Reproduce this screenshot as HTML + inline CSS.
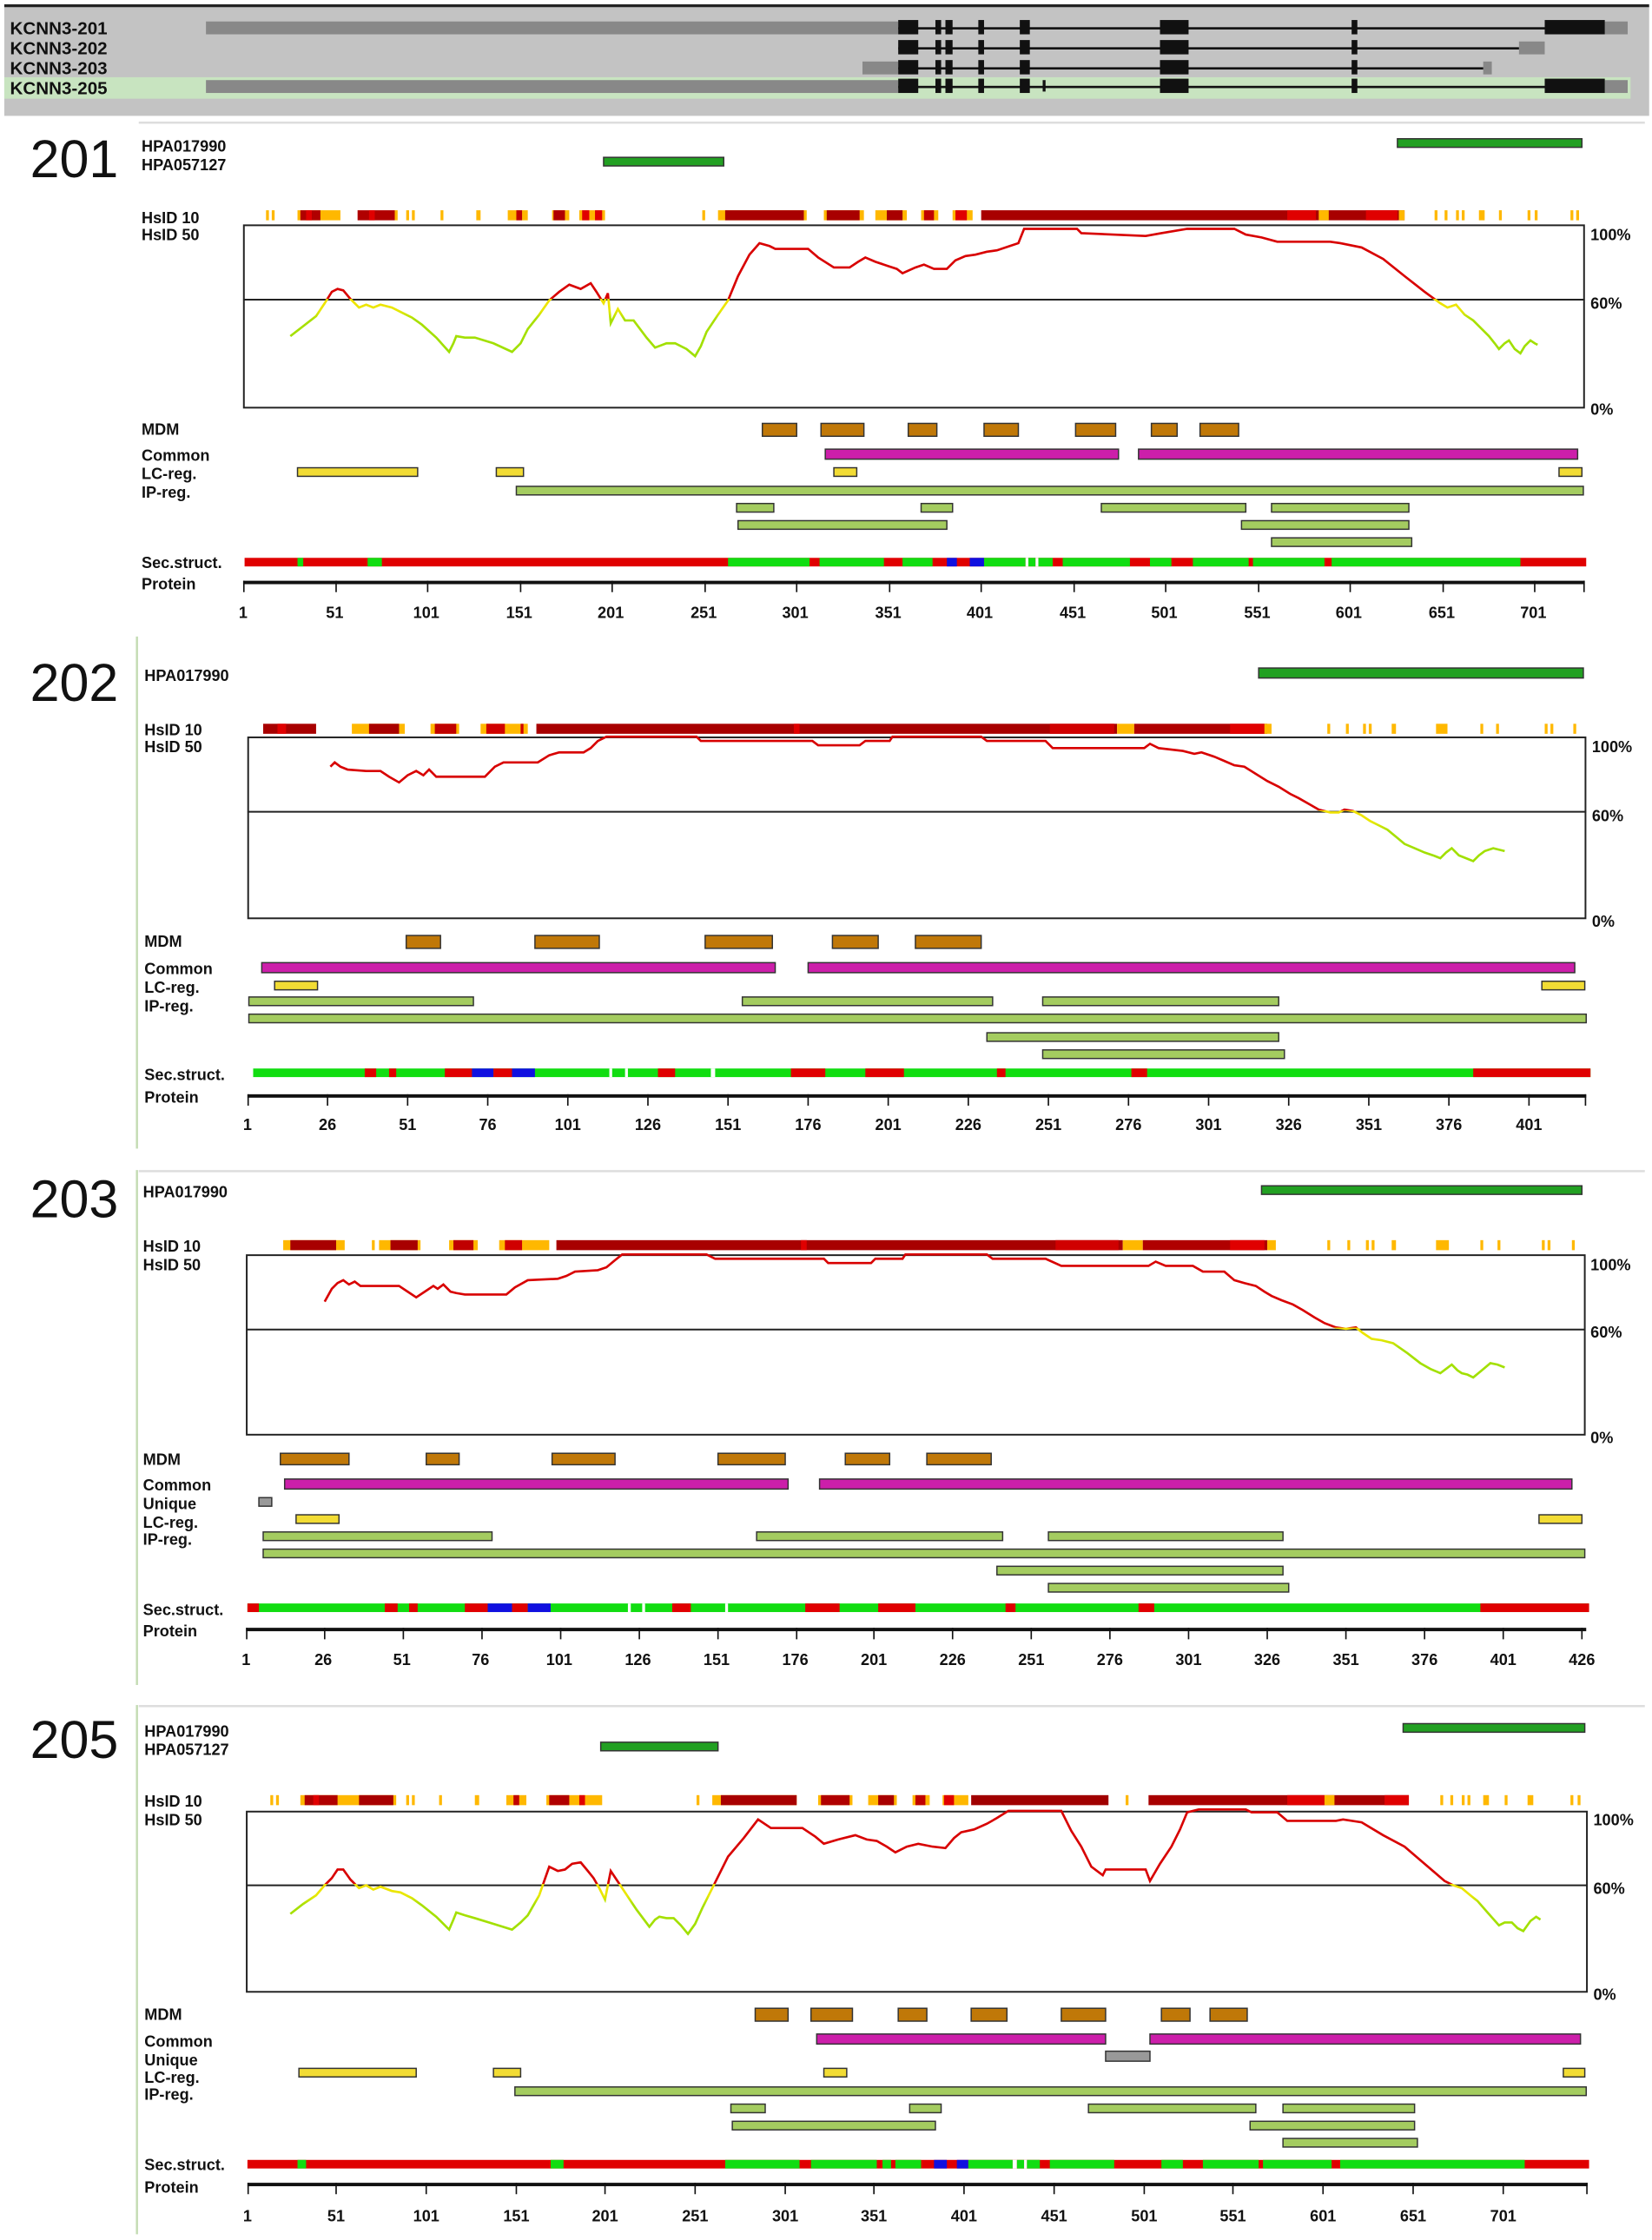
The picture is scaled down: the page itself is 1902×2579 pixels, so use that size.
<!DOCTYPE html>
<html><head><meta charset="utf-8"><style>
html,body{margin:0;padding:0;background:#fff}
svg{display:block}
text{font-family:"Liberation Sans",sans-serif}
.l{font-size:11px;font-weight:bold;fill:#111}
.t{font-size:11px;font-weight:bold;fill:#111;text-anchor:middle}
.big{font-size:37px;fill:#111}
.b rect{stroke:#333;stroke-width:0.9}
</style></head><body>
<svg width="1902" height="2579" viewBox="0 0 1155 1566" preserveAspectRatio="none" xmlns="http://www.w3.org/2000/svg">
<defs>
<linearGradient id="g1" gradientUnits="userSpaceOnUse" x1="0" y1="157" x2="0" y2="285"><stop offset="0.405" stop-color="#d80000"/><stop offset="0.405" stop-color="#f2e000"/><stop offset="0.47" stop-color="#e8e800"/><stop offset="0.52" stop-color="#a8e000"/><stop offset="1" stop-color="#90e000"/></linearGradient>
<linearGradient id="g2" gradientUnits="userSpaceOnUse" x1="0" y1="515" x2="0" y2="642"><stop offset="0.405" stop-color="#d80000"/><stop offset="0.405" stop-color="#f2e000"/><stop offset="0.47" stop-color="#e8e800"/><stop offset="0.52" stop-color="#a8e000"/><stop offset="1" stop-color="#90e000"/></linearGradient>
<linearGradient id="g3" gradientUnits="userSpaceOnUse" x1="0" y1="877" x2="0" y2="1003"><stop offset="0.405" stop-color="#d80000"/><stop offset="0.405" stop-color="#f2e000"/><stop offset="0.47" stop-color="#e8e800"/><stop offset="0.52" stop-color="#a8e000"/><stop offset="1" stop-color="#90e000"/></linearGradient>
<linearGradient id="g5" gradientUnits="userSpaceOnUse" x1="0" y1="1266" x2="0" y2="1392"><stop offset="0.405" stop-color="#d80000"/><stop offset="0.405" stop-color="#f2e000"/><stop offset="0.47" stop-color="#e8e800"/><stop offset="0.52" stop-color="#a8e000"/><stop offset="1" stop-color="#90e000"/></linearGradient>
</defs>

<rect x="3" y="4" width="1150" height="77" fill="#c3c3c3"/>
<rect x="3" y="3" width="1150" height="2" fill="#222"/>
<rect x="3" y="54" width="1137" height="15" fill="#c8e4c0"/>
<g font-weight="bold" fill="#111">
<text x="7" y="24" style="font-size:12.5px">KCNN3-201</text>
<text x="7" y="38" style="font-size:12.5px">KCNN3-202</text>
<text x="7" y="52" style="font-size:12.5px">KCNN3-203</text>
<text x="7" y="66" style="font-size:12.5px">KCNN3-205</text>
</g>
<g fill="#111">
<rect x="144" y="15" width="484" height="9" fill="#888"/><rect x="1122" y="15" width="16" height="9" fill="#888"/>
<rect x="628" y="19" width="452" height="1.6"/>
<rect x="628" y="14" width="14" height="10"/><rect x="654" y="14" width="4" height="10"/><rect x="661" y="14" width="5" height="10"/><rect x="684" y="14" width="4" height="10"/><rect x="713" y="14" width="7" height="10"/><rect x="811" y="14" width="20" height="10"/><rect x="945" y="14" width="4" height="10"/><rect x="1080" y="14" width="42" height="10"/>
<rect x="1062" y="29" width="18" height="9" fill="#888"/>
<rect x="628" y="33" width="434" height="1.6"/>
<rect x="628" y="28" width="14" height="10"/><rect x="654" y="28" width="4" height="10"/><rect x="661" y="28" width="5" height="10"/><rect x="684" y="28" width="4" height="10"/><rect x="713" y="28" width="7" height="10"/><rect x="811" y="28" width="20" height="10"/><rect x="945" y="28" width="4" height="10"/>
<rect x="603" y="43" width="25" height="9" fill="#888"/><rect x="1037" y="43" width="6" height="9" fill="#888"/>
<rect x="628" y="47" width="409" height="1.6"/>
<rect x="628" y="42" width="14" height="10"/><rect x="654" y="42" width="4" height="10"/><rect x="661" y="42" width="5" height="10"/><rect x="684" y="42" width="4" height="10"/><rect x="713" y="42" width="7" height="10"/><rect x="811" y="42" width="20" height="10"/><rect x="945" y="42" width="4" height="10"/>
<rect x="144" y="56" width="484" height="9" fill="#888"/><rect x="1122" y="56" width="16" height="9" fill="#888"/>
<rect x="628" y="60" width="452" height="1.6"/>
<rect x="628" y="55" width="14" height="10"/><rect x="654" y="55" width="4" height="10"/><rect x="661" y="55" width="5" height="10"/><rect x="684" y="55" width="4" height="10"/><rect x="713" y="55" width="7" height="10"/><rect x="729" y="56" width="2" height="8"/><rect x="811" y="55" width="20" height="10"/><rect x="945" y="55" width="4" height="10"/><rect x="1080" y="55" width="42" height="10"/>
</g>

<rect x="97" y="85" width="1053" height="1.5" fill="#ddd"/>
<rect x="95" y="445" width="1.5" height="358" fill="#c4dcb4"/>
<rect x="97" y="818" width="1053" height="1.5" fill="#ddd"/>
<rect x="95" y="818" width="1.5" height="360" fill="#c4dcb4"/>
<rect x="97" y="1192" width="1053" height="1.5" fill="#ddd"/>
<rect x="95" y="1192" width="1.5" height="370" fill="#c4dcb4"/>

<!-- 201 -->
<text class="big" x="21" y="124">201</text>
<text class="l" x="99" y="106">HPA017990</text>
<text class="l" x="99" y="119">HPA057127</text>
<g class="b"><rect x="977" y="97" width="129" height="6" fill="#22a022"/><rect x="422" y="110" width="84" height="6" fill="#22a022"/></g>
<text class="l" x="99" y="156">HsID 10</text>
<text class="l" x="99" y="168">HsID 50</text>
<g>
<rect x="186" y="147" width="2" height="7" fill="#ffb800"/><rect x="190" y="147" width="2" height="7" fill="#ffb800"/>
<rect x="208" y="147" width="30" height="7" fill="#ffb800"/><rect x="210" y="147" width="14" height="7" fill="#b00000"/><rect x="214" y="147" width="4" height="7" fill="#e00000"/>
<rect x="250" y="147" width="26" height="7" fill="#b00000"/><rect x="258" y="147" width="4" height="7" fill="#e00000"/><rect x="276" y="147" width="2" height="7" fill="#ffb800"/>
<rect x="284" y="147" width="2" height="7" fill="#ffb800"/><rect x="288" y="147" width="2" height="7" fill="#ffb800"/>
<rect x="308" y="147" width="2" height="7" fill="#ffb800"/><rect x="333" y="147" width="3" height="7" fill="#ffb800"/>
<rect x="355" y="147" width="14" height="7" fill="#ffb800"/><rect x="361" y="147" width="4" height="7" fill="#c00000"/>
<rect x="386" y="147" width="12" height="7" fill="#ffb800"/><rect x="387" y="147" width="8" height="7" fill="#b00000"/>
<rect x="405" y="147" width="18" height="7" fill="#ffb800"/><rect x="407" y="147" width="5" height="7" fill="#e00000"/><rect x="416" y="147" width="5" height="7" fill="#e00000"/>
<rect x="491" y="147" width="2" height="7" fill="#ffb800"/>
<rect x="502" y="147" width="62" height="7" fill="#ffb800"/><rect x="507" y="147" width="55" height="7" fill="#a80000"/>
<rect x="576" y="147" width="28" height="7" fill="#ffb800"/><rect x="578" y="147" width="23" height="7" fill="#a80000"/>
<rect x="612" y="147" width="22" height="7" fill="#ffb800"/><rect x="620" y="147" width="11" height="7" fill="#a80000"/>
<rect x="644" y="147" width="12" height="7" fill="#ffb800"/><rect x="646" y="147" width="7" height="7" fill="#c00000"/>
<rect x="666" y="147" width="14" height="7" fill="#ffb800"/><rect x="668" y="147" width="8" height="7" fill="#e00000"/>
<rect x="686" y="147" width="296" height="7" fill="#a80000"/><rect x="900" y="147" width="20" height="7" fill="#e00000"/><rect x="922" y="147" width="7" height="7" fill="#ffb800"/><rect x="955" y="147" width="22" height="7" fill="#e00000"/><rect x="978" y="147" width="4" height="7" fill="#ffb800"/>
<rect x="1003" y="147" width="2" height="7" fill="#ffb800"/><rect x="1010" y="147" width="2" height="7" fill="#ffb800"/><rect x="1018" y="147" width="2" height="7" fill="#ffb800"/><rect x="1022" y="147" width="2" height="7" fill="#ffb800"/><rect x="1034" y="147" width="4" height="7" fill="#ffb800"/><rect x="1048" y="147" width="2" height="7" fill="#ffb800"/><rect x="1068" y="147" width="2" height="7" fill="#ffb800"/><rect x="1073" y="147" width="2" height="7" fill="#ffb800"/><rect x="1098" y="147" width="2" height="7" fill="#ffb800"/><rect x="1102" y="147" width="2" height="7" fill="#ffb800"/>
</g>
<rect x="170.5" y="157.5" width="937" height="127.5" fill="none" stroke="#222" stroke-width="1.2"/>
<line x1="170" y1="209.5" x2="1108" y2="209.5" stroke="#222" stroke-width="1.2"/>
<text class="l" x="1112" y="168">100%</text><text class="l" x="1112" y="216">60%</text><text class="l" x="1112" y="290">0%</text>
<polyline fill="none" stroke="url(#g1)" stroke-width="1.6" points="203,235 212,228 221,221 227,212 232,204 236,202 240,203 245,209 251,215 256,213 261,215 266,213 274,215 280,218 288,222 295,227 305,236 314,246 317,240 319,235 325,236 332,236 345,240 358,246 364,240 369,230 377,220 384,210 391,204 398,199 406,202 413,198 417,204 422,212 425,205 427,226 432,216 437,224 443,224 452,236 458,243 466,240 472,240 480,244 486,249 490,242 494,232 502,220 509,210 516,193 524,178 531,170 538,172 542,174 552,174 565,174 572,180 583,187 594,187 600,183 605,180 612,183 621,186 627,188 631,191 640,187 646,185 653,188 662,188 668,182 675,179 682,178 690,176 697,175 706,172 712,170 716,160 753,160 756,163 801,165 812,163 830,160 863,160 871,164 882,166 893,169 915,169 930,169 937,170 952,173 967,181 982,193 996,204 1007,212 1012,215 1018,213 1024,220 1030,224 1036,230 1041,235 1045,240 1048,244 1052,240 1055,238 1059,244 1063,247 1066,242 1070,238 1073,240 1075,241"/>
<g class="b">
<rect x="533" y="296" width="24" height="9" fill="#c07808"/><rect x="574" y="296" width="30" height="9" fill="#c07808"/><rect x="635" y="296" width="20" height="9" fill="#c07808"/><rect x="688" y="296" width="24" height="9" fill="#c07808"/><rect x="752" y="296" width="28" height="9" fill="#c07808"/><rect x="805" y="296" width="18" height="9" fill="#c07808"/><rect x="839" y="296" width="27" height="9" fill="#c07808"/>
<rect x="577" y="314" width="205" height="7" fill="#cc1faa"/><rect x="796" y="314" width="307" height="7" fill="#cc1faa"/>
<rect x="208" y="327" width="84" height="6" fill="#f2dc34"/><rect x="347" y="327" width="19" height="6" fill="#f2dc34"/><rect x="583" y="327" width="16" height="6" fill="#f2dc34"/><rect x="1090" y="327" width="16" height="6" fill="#f2dc34"/>
<rect x="361" y="340" width="746" height="6" fill="#a4cc60"/>
<rect x="515" y="352" width="26" height="6" fill="#a4cc60"/><rect x="644" y="352" width="22" height="6" fill="#a4cc60"/><rect x="770" y="352" width="101" height="6" fill="#a4cc60"/><rect x="889" y="352" width="96" height="6" fill="#a4cc60"/>
<rect x="516" y="364" width="146" height="6" fill="#a4cc60"/><rect x="868" y="364" width="117" height="6" fill="#a4cc60"/>
<rect x="889" y="376" width="98" height="6" fill="#a4cc60"/>
</g>
<text class="l" x="99" y="304">MDM</text><text class="l" x="99" y="322">Common</text><text class="l" x="99" y="335">LC-reg.</text><text class="l" x="99" y="348">IP-reg.</text>
<text class="l" x="99" y="397">Sec.struct.</text><text class="l" x="99" y="412">Protein</text>
<g>
<rect x="171" y="390" width="938" height="6" fill="#e00000"/>
<rect x="208" y="390" width="4" height="6" fill="#11dd11"/><rect x="257" y="390" width="10" height="6" fill="#11dd11"/><rect x="509" y="390" width="57" height="6" fill="#11dd11"/><rect x="573" y="390" width="45" height="6" fill="#11dd11"/><rect x="631" y="390" width="21" height="6" fill="#11dd11"/><rect x="662" y="390" width="7" height="6" fill="#1010e0"/><rect x="678" y="390" width="10" height="6" fill="#1010e0"/><rect x="688" y="390" width="29" height="6" fill="#11dd11"/><rect x="717" y="390" width="2" height="6" fill="#fff"/><rect x="719" y="390" width="5" height="6" fill="#11dd11"/><rect x="724" y="390" width="2" height="6" fill="#fff"/><rect x="726" y="390" width="10" height="6" fill="#11dd11"/><rect x="743" y="390" width="47" height="6" fill="#11dd11"/><rect x="804" y="390" width="15" height="6" fill="#11dd11"/><rect x="834" y="390" width="39" height="6" fill="#11dd11"/><rect x="876" y="390" width="50" height="6" fill="#11dd11"/><rect x="931" y="390" width="132" height="6" fill="#11dd11"/>
</g>
<rect x="170" y="406" width="938" height="2.4" fill="#111"/>
<g stroke="#111" stroke-width="1"><path d="M170.5 406v8M235 406v8M299 406v8M364 406v8M428 406v8M493 406v8M557 406v8M622 406v8M686 406v8M751 406v8M815 406v8M880 406v8M944 406v8M1009 406v8M1073 406v8M1107.5 406v8"/></g>
<g class="t"><text x="170" y="432">1</text><text x="234" y="432">51</text><text x="298" y="432">101</text><text x="363" y="432">151</text><text x="427" y="432">201</text><text x="492" y="432">251</text><text x="556" y="432">301</text><text x="621" y="432">351</text><text x="685" y="432">401</text><text x="750" y="432">451</text><text x="814" y="432">501</text><text x="879" y="432">551</text><text x="943" y="432">601</text><text x="1008" y="432">651</text><text x="1072" y="432">701</text></g>

<!-- 202 -->
<text class="big" x="21" y="490">202</text>
<text class="l" x="101" y="476">HPA017990</text>
<g class="b"><rect x="880" y="467" width="227" height="7" fill="#22a022"/></g>
<text class="l" x="101" y="514">HsID 10</text>
<text class="l" x="101" y="526">HsID 50</text>
<g>
<rect x="184" y="506" width="37" height="7" fill="#a80000"/><rect x="194" y="506" width="6" height="7" fill="#e00000"/>
<rect x="246" y="506" width="37" height="7" fill="#ffb800"/><rect x="258" y="506" width="21" height="7" fill="#a80000"/>
<rect x="301" y="506" width="20" height="7" fill="#ffb800"/><rect x="304" y="506" width="15" height="7" fill="#c00000"/>
<rect x="336" y="506" width="33" height="7" fill="#ffb800"/><rect x="340" y="506" width="13" height="7" fill="#d00000"/><rect x="364" y="506" width="2" height="7" fill="#d00000"/>
<rect x="375" y="506" width="406" height="7" fill="#a80000"/><rect x="555" y="506" width="4" height="7" fill="#e00000"/><rect x="734" y="506" width="45" height="7" fill="#d00000"/>
<rect x="781" y="506" width="12" height="7" fill="#ffb800"/><rect x="793" y="506" width="93" height="7" fill="#b00000"/><rect x="860" y="506" width="24" height="7" fill="#e00000"/><rect x="884" y="506" width="5" height="7" fill="#ffb800"/>
<rect x="928" y="506" width="2" height="7" fill="#ffb800"/><rect x="941" y="506" width="2" height="7" fill="#ffb800"/><rect x="953" y="506" width="2" height="7" fill="#ffb800"/><rect x="957" y="506" width="2" height="7" fill="#ffb800"/><rect x="973" y="506" width="3" height="7" fill="#ffb800"/><rect x="1004" y="506" width="8" height="7" fill="#ffb800"/><rect x="1035" y="506" width="2" height="7" fill="#ffb800"/><rect x="1046" y="506" width="2" height="7" fill="#ffb800"/><rect x="1080" y="506" width="2" height="7" fill="#ffb800"/><rect x="1084" y="506" width="2" height="7" fill="#ffb800"/><rect x="1100" y="506" width="2" height="7" fill="#ffb800"/>
</g>
<rect x="173.5" y="515.5" width="935" height="126.5" fill="none" stroke="#222" stroke-width="1.2"/>
<line x1="173" y1="567.5" x2="1109" y2="567.5" stroke="#222" stroke-width="1.2"/>
<text class="l" x="1113" y="526">100%</text><text class="l" x="1113" y="574">60%</text><text class="l" x="1113" y="648">0%</text>
<polyline fill="none" stroke="url(#g2)" stroke-width="1.6" points="231,536 234,533 238,536 243,538 256,539 266,539 272,543 279,547 285,542 291,539 296,542 300,538 305,543 310,543 339,543 346,536 352,533 376,533 384,528 391,526 408,526 413,523 418,518 424,515 487,515 490,518 568,518 572,521 601,521 605,518 622,518 624,515 686,515 690,518 731,518 736,523 800,523 804,520 810,523 827,525 835,527 840,526 849,529 856,532 863,535 870,536 878,541 886,546 894,550 902,555 908,558 915,562 922,566 930,568 936,568 940,566 946,567 952,570 958,574 964,577 970,580 976,585 982,590 989,593 996,596 1002,598 1007,600 1011,596 1015,593 1020,598 1025,600 1030,602 1034,598 1038,595 1044,593 1048,594 1052,595"/>
<g class="b">
<rect x="284" y="654" width="24" height="9" fill="#c07808"/><rect x="374" y="654" width="45" height="9" fill="#c07808"/><rect x="493" y="654" width="47" height="9" fill="#c07808"/><rect x="582" y="654" width="32" height="9" fill="#c07808"/><rect x="640" y="654" width="46" height="9" fill="#c07808"/>
<rect x="183" y="673" width="359" height="7" fill="#cc1faa"/><rect x="565" y="673" width="536" height="7" fill="#cc1faa"/>
<rect x="192" y="686" width="30" height="6" fill="#f2dc34"/><rect x="1078" y="686" width="30" height="6" fill="#f2dc34"/>
<rect x="174" y="697" width="157" height="6" fill="#a4cc60"/><rect x="519" y="697" width="175" height="6" fill="#a4cc60"/><rect x="729" y="697" width="165" height="6" fill="#a4cc60"/>
<rect x="174" y="709" width="935" height="6" fill="#a4cc60"/>
<rect x="690" y="722" width="204" height="6" fill="#a4cc60"/>
<rect x="729" y="734" width="169" height="6" fill="#a4cc60"/>
</g>
<text class="l" x="101" y="662">MDM</text><text class="l" x="101" y="681">Common</text><text class="l" x="101" y="694">LC-reg.</text><text class="l" x="101" y="707">IP-reg.</text>
<text class="l" x="101" y="755">Sec.struct.</text><text class="l" x="101" y="771">Protein</text>
<g>
<rect x="177" y="747" width="935" height="6" fill="#11dd11"/>
<rect x="255" y="747" width="8" height="6" fill="#e00000"/><rect x="272" y="747" width="5" height="6" fill="#e00000"/><rect x="311" y="747" width="19" height="6" fill="#e00000"/><rect x="330" y="747" width="15" height="6" fill="#1010e0"/><rect x="345" y="747" width="13" height="6" fill="#e00000"/><rect x="358" y="747" width="16" height="6" fill="#1010e0"/><rect x="426" y="747" width="2" height="6" fill="#fff"/><rect x="437" y="747" width="2" height="6" fill="#fff"/><rect x="460" y="747" width="12" height="6" fill="#e00000"/><rect x="497" y="747" width="3" height="6" fill="#fff"/><rect x="553" y="747" width="24" height="6" fill="#e00000"/><rect x="605" y="747" width="27" height="6" fill="#e00000"/><rect x="697" y="747" width="6" height="6" fill="#e00000"/><rect x="791" y="747" width="11" height="6" fill="#e00000"/><rect x="1030" y="747" width="82" height="6" fill="#e00000"/>
</g>
<rect x="173" y="765" width="936" height="2.4" fill="#111"/>
<g stroke="#111" stroke-width="1"><path d="M173.5 765v8M229 765v8M285 765v8M341 765v8M397 765v8M453 765v8M509 765v8M565 765v8M621 765v8M677 765v8M733 765v8M789 765v8M845 765v8M901 765v8M957 765v8M1013 765v8M1069 765v8M1108.5 765v8"/></g>
<g class="t"><text x="173" y="790">1</text><text x="229" y="790">26</text><text x="285" y="790">51</text><text x="341" y="790">76</text><text x="397" y="790">101</text><text x="453" y="790">126</text><text x="509" y="790">151</text><text x="565" y="790">176</text><text x="621" y="790">201</text><text x="677" y="790">226</text><text x="733" y="790">251</text><text x="789" y="790">276</text><text x="845" y="790">301</text><text x="901" y="790">326</text><text x="957" y="790">351</text><text x="1013" y="790">376</text><text x="1069" y="790">401</text></g>

<!-- 203 -->
<text class="big" x="21" y="851">203</text>
<text class="l" x="100" y="837">HPA017990</text>
<g class="b"><rect x="882" y="829" width="224" height="6" fill="#22a022"/></g>
<text class="l" x="100" y="875">HsID 10</text>
<text class="l" x="100" y="888">HsID 50</text>
<g>
<rect x="198" y="867" width="43" height="7" fill="#ffb800"/><rect x="203" y="867" width="32" height="7" fill="#a80000"/>
<rect x="260" y="867" width="2" height="7" fill="#ffb800"/><rect x="265" y="867" width="29" height="7" fill="#ffb800"/><rect x="273" y="867" width="19" height="7" fill="#a80000"/>
<rect x="314" y="867" width="20" height="7" fill="#ffb800"/><rect x="317" y="867" width="14" height="7" fill="#c00000"/>
<rect x="349" y="867" width="35" height="7" fill="#ffb800"/><rect x="353" y="867" width="12" height="7" fill="#d00000"/>
<rect x="389" y="867" width="396" height="7" fill="#a80000"/><rect x="560" y="867" width="4" height="7" fill="#e00000"/><rect x="738" y="867" width="44" height="7" fill="#d00000"/>
<rect x="785" y="867" width="14" height="7" fill="#ffb800"/><rect x="799" y="867" width="87" height="7" fill="#b00000"/><rect x="860" y="867" width="24" height="7" fill="#e00000"/><rect x="886" y="867" width="6" height="7" fill="#ffb800"/>
<rect x="928" y="867" width="2" height="7" fill="#ffb800"/><rect x="942" y="867" width="2" height="7" fill="#ffb800"/><rect x="955" y="867" width="2" height="7" fill="#ffb800"/><rect x="959" y="867" width="2" height="7" fill="#ffb800"/><rect x="973" y="867" width="3" height="7" fill="#ffb800"/><rect x="1004" y="867" width="9" height="7" fill="#ffb800"/><rect x="1035" y="867" width="2" height="7" fill="#ffb800"/><rect x="1047" y="867" width="2" height="7" fill="#ffb800"/><rect x="1078" y="867" width="2" height="7" fill="#ffb800"/><rect x="1082" y="867" width="2" height="7" fill="#ffb800"/><rect x="1099" y="867" width="2" height="7" fill="#ffb800"/>
</g>
<rect x="172.5" y="877.5" width="935.5" height="125.5" fill="none" stroke="#222" stroke-width="1.2"/>
<line x1="172" y1="929.5" x2="1108" y2="929.5" stroke="#222" stroke-width="1.2"/>
<text class="l" x="1112" y="888">100%</text><text class="l" x="1112" y="935">60%</text><text class="l" x="1112" y="1009">0%</text>
<polyline fill="none" stroke="url(#g3)" stroke-width="1.6" points="227,910 232,901 236,897 240,895 244,898 248,896 252,899 279,899 285,903 291,907 297,903 303,899 306,901 310,898 315,903 319,904 325,905 354,905 360,900 369,895 390,894 396,892 402,889 418,888 424,886 430,881 435,877 494,877 500,880 576,880 579,883 609,883 612,880 631,880 633,877 690,877 694,880 731,880 742,885 803,885 808,882 815,885 834,885 841,889 856,889 863,895 870,897 878,899 884,903 889,906 896,909 904,912 911,916 919,921 926,925 934,928 941,929 948,928 953,932 959,936 966,937 974,939 984,946 993,953 1000,957 1007,960 1011,957 1015,954 1019,958 1022,960 1026,961 1030,963 1036,958 1042,953 1047,954 1052,956"/>
<g class="b">
<rect x="196" y="1016" width="48" height="8" fill="#c07808"/><rect x="298" y="1016" width="23" height="8" fill="#c07808"/><rect x="386" y="1016" width="44" height="8" fill="#c07808"/><rect x="502" y="1016" width="47" height="8" fill="#c07808"/><rect x="591" y="1016" width="31" height="8" fill="#c07808"/><rect x="648" y="1016" width="45" height="8" fill="#c07808"/>
<rect x="199" y="1034" width="352" height="7" fill="#cc1faa"/><rect x="573" y="1034" width="526" height="7" fill="#cc1faa"/>
<rect x="181" y="1047" width="9" height="6" fill="#999"/>
<rect x="207" y="1059" width="30" height="6" fill="#f2dc34"/><rect x="1076" y="1059" width="30" height="6" fill="#f2dc34"/>
<rect x="184" y="1071" width="160" height="6" fill="#a4cc60"/><rect x="529" y="1071" width="172" height="6" fill="#a4cc60"/><rect x="733" y="1071" width="164" height="6" fill="#a4cc60"/>
<rect x="184" y="1083" width="924" height="6" fill="#a4cc60"/>
<rect x="697" y="1095" width="200" height="6" fill="#a4cc60"/>
<rect x="733" y="1107" width="168" height="6" fill="#a4cc60"/>
</g>
<text class="l" x="100" y="1024">MDM</text><text class="l" x="100" y="1042">Common</text><text class="l" x="100" y="1055">Unique</text><text class="l" x="100" y="1068">LC-reg.</text><text class="l" x="100" y="1080">IP-reg.</text>
<text class="l" x="100" y="1129">Sec.struct.</text><text class="l" x="100" y="1144">Protein</text>
<g>
<rect x="173" y="1121" width="938" height="6" fill="#11dd11"/>
<rect x="173" y="1121" width="8" height="6" fill="#e00000"/><rect x="269" y="1121" width="9" height="6" fill="#e00000"/><rect x="286" y="1121" width="6" height="6" fill="#e00000"/><rect x="325" y="1121" width="16" height="6" fill="#e00000"/><rect x="341" y="1121" width="17" height="6" fill="#1010e0"/><rect x="358" y="1121" width="11" height="6" fill="#e00000"/><rect x="369" y="1121" width="16" height="6" fill="#1010e0"/><rect x="439" y="1121" width="2" height="6" fill="#fff"/><rect x="449" y="1121" width="2" height="6" fill="#fff"/><rect x="470" y="1121" width="13" height="6" fill="#e00000"/><rect x="507" y="1121" width="2" height="6" fill="#fff"/><rect x="563" y="1121" width="24" height="6" fill="#e00000"/><rect x="614" y="1121" width="26" height="6" fill="#e00000"/><rect x="703" y="1121" width="7" height="6" fill="#e00000"/><rect x="796" y="1121" width="11" height="6" fill="#e00000"/><rect x="1035" y="1121" width="76" height="6" fill="#e00000"/>
</g>
<rect x="172" y="1138" width="937" height="2.4" fill="#111"/>
<g stroke="#111" stroke-width="1"><path d="M172.5 1138v8M227 1138v8M282 1138v8M337 1138v8M392 1138v8M447 1138v8M502 1138v8M557 1138v8M611 1138v8M666 1138v8M721 1138v8M776 1138v8M831 1138v8M886 1138v8M941 1138v8M996 1138v8M1051 1138v8M1106 1138v8"/></g>
<g class="t"><text x="172" y="1164">1</text><text x="226" y="1164">26</text><text x="281" y="1164">51</text><text x="336" y="1164">76</text><text x="391" y="1164">101</text><text x="446" y="1164">126</text><text x="501" y="1164">151</text><text x="556" y="1164">176</text><text x="611" y="1164">201</text><text x="666" y="1164">226</text><text x="721" y="1164">251</text><text x="776" y="1164">276</text><text x="831" y="1164">301</text><text x="886" y="1164">326</text><text x="941" y="1164">351</text><text x="996" y="1164">376</text><text x="1051" y="1164">401</text><text x="1106" y="1164">426</text></g>

<!-- 205 -->
<text class="big" x="21" y="1229">205</text>
<text class="l" x="101" y="1214">HPA017990</text>
<text class="l" x="101" y="1227">HPA057127</text>
<g class="b"><rect x="981" y="1205" width="127" height="6" fill="#22a022"/><rect x="420" y="1218" width="82" height="6" fill="#22a022"/></g>
<text class="l" x="101" y="1263">HsID 10</text>
<text class="l" x="101" y="1276">HsID 50</text>
<g>
<rect x="189" y="1255" width="2" height="7" fill="#ffb800"/><rect x="193" y="1255" width="2" height="7" fill="#ffb800"/>
<rect x="210" y="1255" width="67" height="7" fill="#ffb800"/><rect x="213" y="1255" width="23" height="7" fill="#b00000"/><rect x="219" y="1255" width="4" height="7" fill="#e00000"/><rect x="251" y="1255" width="24" height="7" fill="#a80000"/>
<rect x="284" y="1255" width="2" height="7" fill="#ffb800"/><rect x="288" y="1255" width="2" height="7" fill="#ffb800"/><rect x="307" y="1255" width="2" height="7" fill="#ffb800"/><rect x="332" y="1255" width="3" height="7" fill="#ffb800"/>
<rect x="354" y="1255" width="14" height="7" fill="#ffb800"/><rect x="359" y="1255" width="4" height="7" fill="#c00000"/>
<rect x="382" y="1255" width="39" height="7" fill="#ffb800"/><rect x="384" y="1255" width="14" height="7" fill="#b00000"/><rect x="405" y="1255" width="4" height="7" fill="#e00000"/>
<rect x="487" y="1255" width="2" height="7" fill="#ffb800"/>
<rect x="498" y="1255" width="59" height="7" fill="#ffb800"/><rect x="504" y="1255" width="53" height="7" fill="#a80000"/>
<rect x="572" y="1255" width="24" height="7" fill="#ffb800"/><rect x="574" y="1255" width="20" height="7" fill="#b00000"/>
<rect x="607" y="1255" width="20" height="7" fill="#ffb800"/><rect x="614" y="1255" width="11" height="7" fill="#a80000"/>
<rect x="638" y="1255" width="12" height="7" fill="#ffb800"/><rect x="640" y="1255" width="7" height="7" fill="#c00000"/>
<rect x="659" y="1255" width="18" height="7" fill="#ffb800"/><rect x="660" y="1255" width="7" height="7" fill="#e00000"/>
<rect x="679" y="1255" width="96" height="7" fill="#a00000"/>
<rect x="787" y="1255" width="2" height="7" fill="#ffb800"/>
<rect x="803" y="1255" width="182" height="7" fill="#a80000"/><rect x="900" y="1255" width="26" height="7" fill="#e00000"/><rect x="926" y="1255" width="7" height="7" fill="#ffb800"/><rect x="968" y="1255" width="17" height="7" fill="#e00000"/>
<rect x="1007" y="1255" width="2" height="7" fill="#ffb800"/><rect x="1014" y="1255" width="2" height="7" fill="#ffb800"/><rect x="1022" y="1255" width="2" height="7" fill="#ffb800"/><rect x="1026" y="1255" width="2" height="7" fill="#ffb800"/><rect x="1037" y="1255" width="4" height="7" fill="#ffb800"/><rect x="1052" y="1255" width="2" height="7" fill="#ffb800"/><rect x="1068" y="1255" width="4" height="7" fill="#ffb800"/><rect x="1098" y="1255" width="2" height="7" fill="#ffb800"/><rect x="1103" y="1255" width="2" height="7" fill="#ffb800"/>
</g>
<rect x="172.5" y="1266.5" width="937" height="126" fill="none" stroke="#222" stroke-width="1.2"/>
<line x1="172" y1="1318" x2="1110" y2="1318" stroke="#222" stroke-width="1.2"/>
<text class="l" x="1114" y="1276">100%</text><text class="l" x="1114" y="1324">60%</text><text class="l" x="1114" y="1398">0%</text>
<polyline fill="none" stroke="url(#g5)" stroke-width="1.6" points="203,1338 212,1331 221,1325 227,1318 232,1313 236,1307 240,1307 245,1314 251,1320 256,1318 261,1321 266,1319 274,1322 280,1323 288,1327 295,1332 305,1340 314,1349 317,1342 319,1337 325,1339 332,1341 345,1345 358,1349 364,1344 369,1339 377,1325 384,1305 390,1308 395,1307 400,1303 406,1302 411,1308 415,1313 419,1320 423,1328 427,1308 431,1314 435,1320 445,1335 454,1347 458,1342 461,1340 466,1341 471,1341 476,1346 481,1352 486,1345 491,1334 500,1316 509,1298 520,1285 530,1272 539,1278 561,1278 570,1284 576,1289 586,1286 598,1283 606,1286 613,1287 620,1291 626,1295 634,1291 642,1289 652,1291 661,1292 667,1285 672,1281 681,1279 690,1275 697,1271 705,1266 742,1266 749,1280 756,1291 763,1305 771,1311 773,1307 801,1307 804,1315 811,1303 819,1291 825,1279 830,1267 838,1265 871,1265 875,1267 893,1267 900,1273 934,1273 939,1272 952,1274 967,1283 982,1291 996,1303 1010,1315 1016,1318 1022,1320 1028,1325 1033,1329 1040,1337 1048,1346 1052,1344 1057,1344 1061,1348 1065,1350 1070,1343 1074,1340 1077,1342"/>
<g class="b">
<rect x="528" y="1404" width="23" height="9" fill="#c07808"/><rect x="567" y="1404" width="29" height="9" fill="#c07808"/><rect x="628" y="1404" width="20" height="9" fill="#c07808"/><rect x="679" y="1404" width="25" height="9" fill="#c07808"/><rect x="742" y="1404" width="31" height="9" fill="#c07808"/><rect x="812" y="1404" width="20" height="9" fill="#c07808"/><rect x="846" y="1404" width="26" height="9" fill="#c07808"/>
<rect x="571" y="1422" width="202" height="7" fill="#cc1faa"/><rect x="804" y="1422" width="301" height="7" fill="#cc1faa"/>
<rect x="773" y="1434" width="31" height="7" fill="#999"/>
<rect x="209" y="1446" width="82" height="6" fill="#f2dc34"/><rect x="345" y="1446" width="19" height="6" fill="#f2dc34"/><rect x="576" y="1446" width="16" height="6" fill="#f2dc34"/><rect x="1093" y="1446" width="15" height="6" fill="#f2dc34"/>
<rect x="360" y="1459" width="749" height="6" fill="#a4cc60"/>
<rect x="511" y="1471" width="24" height="6" fill="#a4cc60"/><rect x="636" y="1471" width="22" height="6" fill="#a4cc60"/><rect x="761" y="1471" width="117" height="6" fill="#a4cc60"/><rect x="897" y="1471" width="92" height="6" fill="#a4cc60"/>
<rect x="512" y="1483" width="142" height="6" fill="#a4cc60"/><rect x="874" y="1483" width="115" height="6" fill="#a4cc60"/>
<rect x="897" y="1495" width="94" height="6" fill="#a4cc60"/>
</g>
<text class="l" x="101" y="1412">MDM</text><text class="l" x="101" y="1431">Common</text><text class="l" x="101" y="1444">Unique</text><text class="l" x="101" y="1456">LC-reg.</text><text class="l" x="101" y="1468">IP-reg.</text>
<text class="l" x="101" y="1517">Sec.struct.</text><text class="l" x="101" y="1533">Protein</text>
<g>
<rect x="173" y="1510" width="938" height="6" fill="#e00000"/>
<rect x="208" y="1510" width="6" height="6" fill="#11dd11"/><rect x="385" y="1510" width="9" height="6" fill="#11dd11"/><rect x="507" y="1510" width="52" height="6" fill="#11dd11"/><rect x="567" y="1510" width="46" height="6" fill="#11dd11"/><rect x="617" y="1510" width="6" height="6" fill="#11dd11"/><rect x="626" y="1510" width="18" height="6" fill="#11dd11"/><rect x="653" y="1510" width="9" height="6" fill="#1010e0"/><rect x="669" y="1510" width="8" height="6" fill="#1010e0"/><rect x="677" y="1510" width="31" height="6" fill="#11dd11"/><rect x="708" y="1510" width="3" height="6" fill="#fff"/><rect x="711" y="1510" width="5" height="6" fill="#11dd11"/><rect x="716" y="1510" width="2" height="6" fill="#fff"/><rect x="718" y="1510" width="9" height="6" fill="#11dd11"/><rect x="734" y="1510" width="45" height="6" fill="#11dd11"/><rect x="812" y="1510" width="15" height="6" fill="#11dd11"/><rect x="841" y="1510" width="39" height="6" fill="#11dd11"/><rect x="883" y="1510" width="48" height="6" fill="#11dd11"/><rect x="937" y="1510" width="129" height="6" fill="#11dd11"/>
</g>
<rect x="173" y="1526" width="937" height="2.4" fill="#111"/>
<g stroke="#111" stroke-width="1"><path d="M173.5 1526v8M235 1526v8M298 1526v8M361 1526v8M423 1526v8M486 1526v8M549 1526v8M611 1526v8M674 1526v8M737 1526v8M800 1526v8M862 1526v8M925 1526v8M988 1526v8M1051 1526v8M1109.5 1526v8"/></g>
<g class="t"><text x="173" y="1553">1</text><text x="235" y="1553">51</text><text x="298" y="1553">101</text><text x="361" y="1553">151</text><text x="423" y="1553">201</text><text x="486" y="1553">251</text><text x="549" y="1553">301</text><text x="611" y="1553">351</text><text x="674" y="1553">401</text><text x="737" y="1553">451</text><text x="800" y="1553">501</text><text x="862" y="1553">551</text><text x="925" y="1553">601</text><text x="988" y="1553">651</text><text x="1051" y="1553">701</text></g>
</svg>
</body></html>
